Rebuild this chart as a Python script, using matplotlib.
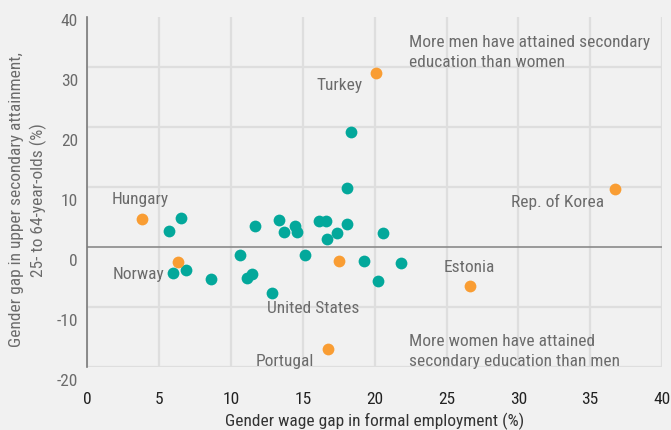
import numpy as np
import matplotlib
matplotlib.use("Agg")
import matplotlib.pyplot as plt
import matplotlib.transforms as mtransforms

plt.rcParams['font.family'] = ['Roboto Condensed', 'Liberation Sans', 'DejaVu Sans']

# teal points (no label)
teal_x = [6.5, 5.65, 5.98, 6.86, 8.62, 10.64, 11.09, 11.43, 12.83, 11.66,
          13.35, 18.09, 13.71, 14.43, 14.59, 16.1, 16.59, 18.05, 17.4, 16.7,
          20.56, 15.15, 19.23, 21.83, 20.21, 18.33]
teal_y = [4.87, 2.63, -4.25, -3.8, -5.25, -1.36, -5.08, -4.47, -7.7, 3.47,
          4.58, 9.92, 2.53, 3.53, 2.47, 4.3, 4.37, 3.92, 2.42, 1.36,
          2.42, -1.3, -2.31, -2.69, -5.69, 19.13]

# orange points (labelled countries)
countries = ["Hungary", "Norway", "Turkey", "Rep. of Korea", "Estonia", "United States", "Portugal"]
orange_x = [3.82, 6.33, 20.09, 36.73, 26.64, 17.49, 16.72]
orange_y = [4.63, -2.47, 28.97, 9.7, -6.53, -2.36, -17.08]

# where the country names sit
label_pos = {
    "Hungary": (3.66, 8.1),
    "Norway": (3.55, -4.4),
    "Turkey": (17.55, 27.1),
    "Rep. of Korea": (32.7, 7.75),
    "Estonia": (26.57, -3.25),
    "United States": (15.74, -10.1),
    "Portugal": (13.75, -18.9),
}

yticks = [-20, -10, 0, 10, 20, 30, 40]
xticks = [0, 5, 10, 15, 20, 25, 30, 35, 40]

teal = '#03a89b'
orange = '#f99d33'
bg = '#f1f1f1'
txt = '#6b6b6b'
fs = 12.5

fig = plt.figure(figsize=(6.71, 4.31), dpi=100, facecolor=bg)
ax = fig.add_axes([0.1304, 0.1462, 0.8562, 0.812])
ax.set_facecolor(bg)

ax.set_xlim(0, 40)
ax.set_ylim(-20, 38.35)

# grid
for v in yticks:
    if v == 0:
        ax.axhline(v, color='#8a8a8a', lw=1.2, zorder=1)
    else:
        ax.axhline(v, color='#dedede', lw=1.6, zorder=0)
ax.set_xticks(xticks)
ax.grid(axis='x', color='#dedede', lw=1.6, zorder=0)
ax.set_axisbelow(True)

ax.scatter(teal_x, teal_y, s=72, color=teal, zorder=3, linewidths=0)
ax.scatter(orange_x, orange_y, s=72, color=orange, zorder=3, linewidths=0)

for name in countries:
    lx, ly = label_pos[name]
    ax.text(lx, ly, name, ha='center', va='center', fontsize=fs, color=txt)

ax.text(22.4, 32.6, "More men have attained secondary\neducation than women",
        ha='left', va='center', fontsize=fs, color=txt, linespacing=1.45)
ax.text(22.4, -17.3, "More women have attained\nsecondary education than men",
        ha='left', va='center', fontsize=fs, color=txt, linespacing=1.45)

# y tick labels sit a bit below their grid lines in the original
ax.set_yticks([])
shift = mtransforms.ScaledTranslation(-9.5 / 100, -13.5 / 100, fig.dpi_scale_trans)
ytrans = mtransforms.blended_transform_factory(ax.transAxes, ax.transData) + shift
for v in yticks:
    ax.text(0, v, str(v), transform=ytrans, ha='right', va='center',
            fontsize=fs, color=txt, clip_on=False)

ax.tick_params(axis='x', length=0, pad=17, labelsize=fs, labelcolor='#222222')

for s in ['top', 'right', 'bottom']:
    ax.spines[s].set_visible(False)
ax.spines['left'].set_color('#7a7a7a')
ax.spines['left'].set_linewidth(1.2)

ax.set_xlabel("Gender wage gap in formal employment (%)", fontsize=fs, color='#333333')
ax.xaxis.set_label_coords(0.5, -0.128)
ax.set_ylabel("Gender gap in upper secondary attainment,\n25- to 64-year-olds (%)",
              fontsize=fs, color=txt, linespacing=1.45)
ax.yaxis.set_label_coords(-0.07, 0.48)

fig.savefig('out.png', dpi=100, facecolor=bg)
